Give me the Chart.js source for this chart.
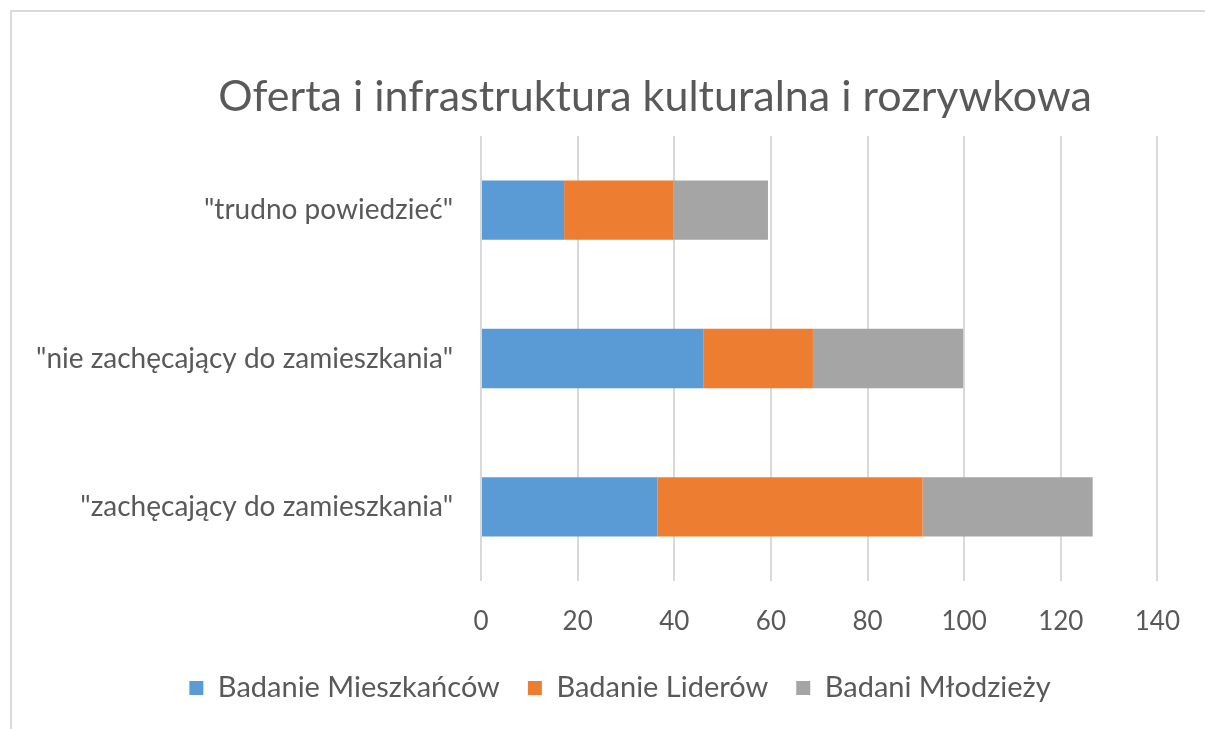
<!DOCTYPE html>
<html lang="pl">
<head>
  <meta charset="UTF-8">
  <title>Oferta i infrastruktura kulturalna i rozrywkowa</title>
  <style>
    html, body {
      margin: 0;
      padding: 0;
      background: #ffffff;
      overflow: hidden;
    }
    .frame {
      position: absolute;
      left: 10px;
      top: 10px;
      width: 1300px;
      height: 800px;
      border: 2px solid #d9d9d9;
    }
    .chart-box {
      position: absolute;
      left: 0;
      top: 0;
      width: 1205px;
      height: 729px;
    }
  </style>
  <script src="https://cdn.jsdelivr.net/npm/chart.js"></script>
</head>
<body>
  <div class="frame"></div>
  <div class="chart-box">
    <canvas id="barChart"></canvas>
  </div>

  <script>
    const categories = [
      '"trudno powiedzieć"',
      '"nie zachęcający do zamieszkania"',
      '"zachęcający do zamieszkania"'
    ];
    const mieszkancow = [17.2, 46.1, 36.5];
    const liderow = [22.6, 22.6, 54.9];
    const mlodziezy = [19.6, 31.1, 35.2];
    const xTicks = [0, 20, 40, 60, 80, 100, 120, 140];

    const textGray = '#595959';
    const fontFamily = 'Lato, "Open Sans", sans-serif';

    // Excel centres title and legend a bit to the right of the canvas middle
    const shiftBlocks = {
      id: 'shiftBlocks',
      afterLayout(chart) {
        chart.titleBlock.left += 76;
        chart.titleBlock.right += 76;
        chart.legend.left += 41;
        chart.legend.right += 41;
      }
    };

    const ctx = document.getElementById('barChart').getContext('2d');
    new Chart(ctx, {
      type: 'bar',
      data: {
        labels: categories,
        datasets: [
          { label: 'Badanie Mieszkańców', data: mieszkancow, backgroundColor: '#5b9bd5' },
          { label: 'Badanie Liderów', data: liderow, backgroundColor: '#ed7d31' },
          { label: 'Badani Młodzieży', data: mlodziezy, backgroundColor: '#a5a5a5' }
        ]
      },
      plugins: [shiftBlocks],
      options: {
        indexAxis: 'y',
        responsive: true,
        maintainAspectRatio: false,
        animation: false,
        categoryPercentage: 1,
        barPercentage: 0.4,
        layout: {
          padding: { top: 0, left: 0, right: 47, bottom: 16.5 }
        },
        scales: {
          x: {
            stacked: true,
            min: 0,
            max: 140,
            afterBuildTicks(scale) {
              scale.ticks = xTicks.map(v => ({ value: v }));
            },
            afterFit(scale) {
              scale.height = 64.5;
            },
            border: { display: false },
            grid: { color: '#d9d9d9', lineWidth: 2, drawTicks: false },
            ticks: {
              padding: 25,
              color: textGray,
              font: { family: fontFamily, size: 26 }
            }
          },
          y: {
            stacked: true,
            afterFit(scale) {
              scale.width = 481;
            },
            border: { display: false },
            grid: { display: false },
            ticks: {
              padding: 20,
              color: textGray,
              font: { family: fontFamily, size: 28 }
            }
          }
        },
        plugins: {
          title: {
            display: true,
            text: 'Oferta i infrastruktura kulturalna i rozrywkowa',
            color: textGray,
            font: { family: fontFamily, size: 43, weight: 'normal', lineHeight: 1.2 },
            padding: { top: 71, bottom: 13.4 }
          },
          legend: {
            position: 'bottom',
            labels: {
              boxWidth: 14,
              boxHeight: 14,
              padding: 28,
              color: textGray,
              font: { family: fontFamily, size: 29 }
            }
          },
          tooltip: { enabled: false }
        }
      }
    });
  </script>
</body>
</html>
